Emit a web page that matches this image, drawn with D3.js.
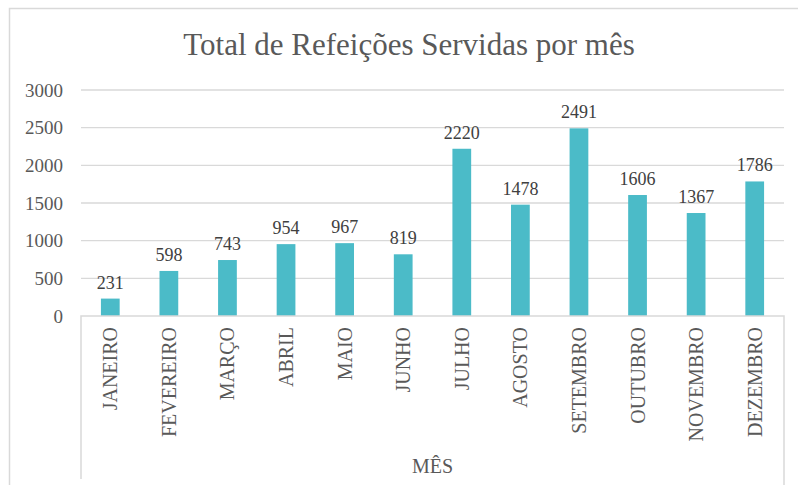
<!DOCTYPE html>
<html>
<head>
<meta charset="utf-8">
<script src="https://cdn.jsdelivr.net/npm/d3@7"></script>
<style>
  body { margin: 0; background: #fff; }
  text { font-family: "Liberation Serif", "Times New Roman", serif; }
</style>
</head>
<body>
<div id="chart"></div>
<script>
// dados do gráfico
var meses = ["JANEIRO", "FEVEREIRO", "MARÇO", "ABRIL", "MAIO", "JUNHO",
  "JULHO", "AGOSTO", "SETEMBRO", "OUTUBRO", "NOVEMBRO", "DEZEMBRO"];
var refeicoes = [231, 598, 743, 954, 967, 819, 2220, 1478, 2491, 1606, 1367, 1786];
var yTicks = [0, 500, 1000, 1500, 2000, 2500, 3000];
var titulo = "Total de Refeições Servidas por mês";
var eixoX = "MÊS";

var width = 798, height = 485;
var plotL = 81, plotR = 784, plotT = 90, plotB = 316;

var svg = d3.select("#chart").append("svg")
  .attr("width", width).attr("height", height);

// borda do gráfico
svg.append("rect")
  .attr("x", 9.5).attr("y", 8.5)
  .attr("width", 800).attr("height", 490)
  .attr("fill", "none").attr("stroke", "#d9d9d9").attr("stroke-width", 1.5);

var x = d3.scaleBand().domain(meses).range([plotL, plotR]).paddingInner(0.68).paddingOuter(0.34);
var y = d3.scaleLinear().domain([0, 3000]).range([plotB, plotT]);

// grade
svg.append("g").selectAll("line")
  .data(yTicks.filter(d => d > 0))
  .enter().append("line")
  .attr("x1", plotL).attr("x2", plotR)
  .attr("y1", d => y(d)).attr("y2", d => y(d))
  .attr("stroke", "#d9d9d9").attr("stroke-width", 1.3);

// eixo y
var yAxis = svg.append("g")
  .attr("transform", "translate(" + (plotL - 18) + ",0)")
  .call(d3.axisLeft(y).tickValues(yTicks).tickFormat(d3.format("d")).tickSize(0).tickPadding(0));
yAxis.select(".domain").remove();
yAxis.selectAll("text")
  .attr("font-size", 19).attr("fill", "#595959")
  .attr("font-family", "Liberation Serif, serif");

// barras
svg.append("g").selectAll("rect")
  .data(refeicoes)
  .enter().append("rect")
  .attr("x", (d, i) => x(meses[i]))
  .attr("y", d => y(d))
  .attr("width", x.bandwidth())
  .attr("height", d => plotB - y(d))
  .attr("fill", "#4bbbc8");

// rótulos de dados
svg.append("g").selectAll("text")
  .data(refeicoes)
  .enter().append("text")
  .attr("x", (d, i) => x(meses[i]) + x.bandwidth() / 2)
  .attr("y", d => y(d) - 10)
  .attr("text-anchor", "middle")
  .attr("font-size", 18).attr("fill", "#404040")
  .text(d => d);

// eixo x (caixa das categorias)
svg.append("path")
  .attr("d", "M" + plotL + ",479V" + plotB + "H" + plotR + "V490")
  .attr("fill", "none").attr("stroke", "#d9d9d9").attr("stroke-width", 1.5);

svg.append("g").selectAll("text")
  .data(meses)
  .enter().append("text")
  .attr("transform", d => "translate(" + (x(d) + x.bandwidth() / 2 + 7) + ",327) rotate(-90)")
  .attr("text-anchor", "end")
  .attr("font-size", 20).attr("fill", "#595959")
  .text(d => d);

svg.append("text")
  .attr("x", (plotL + plotR) / 2).attr("y", 473)
  .attr("text-anchor", "middle")
  .attr("font-size", 20).attr("fill", "#595959")
  .text(eixoX);

// título
svg.append("text")
  .attr("x", 409).attr("y", 55)
  .attr("text-anchor", "middle")
  .attr("font-size", 31).attr("fill", "#595959")
  .text(titulo);
</script>
</body>
</html>
